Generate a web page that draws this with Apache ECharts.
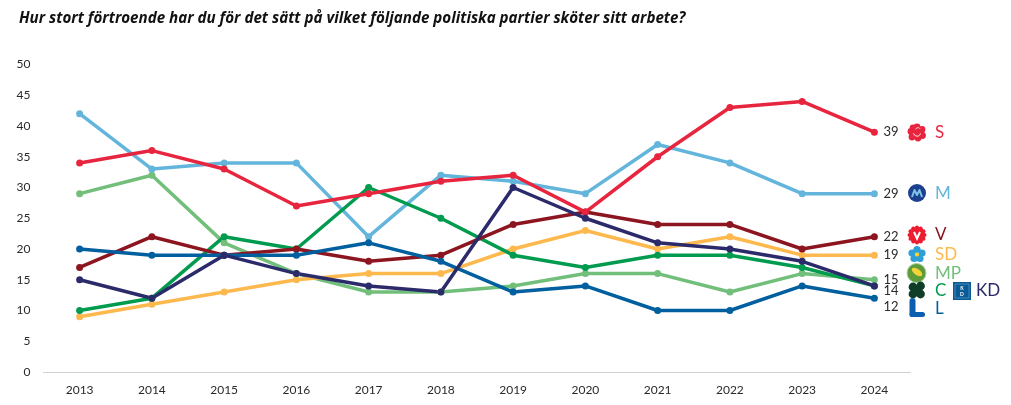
<!DOCTYPE html>
<html><head><meta charset="utf-8">
<style>html,body{margin:0;padding:0;background:#fff}#c{width:1011px;height:405px}</style>
<script src="https://cdn.jsdelivr.net/npm/echarts@6/dist/echarts.min.js"></script>
</head><body><div id="c"></div>
<script>
const titleText = 'Hur stort förtroende har du för det sätt på vilket följande politiska partier sköter sitt arbete?';
const years = ['2013','2014','2015','2016','2017','2018','2019','2020','2021','2022','2023','2024'];
const S  = [34,36,33,27,29,31,32,26,35,43,44,39];
const M  = [42,33,34,34,22,32,31,29,37,34,29,29];
const V  = [17,22,19,20,18,19,24,26,24,24,20,22];
const SD = [9,11,13,15,16,16,20,23,20,22,19,19];
const MP = [29,32,21,16,13,13,14,16,16,13,16,15];
const C  = [10,12,22,20,30,25,19,17,19,19,17,14];
const KD = [15,12,19,16,14,13,30,25,21,20,18,14];
const L  = [20,19,19,19,21,18,13,14,10,10,14,12];
const FONT = 'Lato';
const TXT = '#2a2a2a';
const defs = [
  {name:'MP',data:MP,color:'#72bf7b',dy:0},
  {name:'SD',data:SD,color:'#fdb94d',dy:0},
  {name:'M', data:M, color:'#63b5dc',dy:0},
  {name:'C', data:C, color:'#009b4e',dy:0,noLabel:true},
  {name:'V', data:V, color:'#8c1520',dy:0},
  {name:'L', data:L, color:'#005f9e',dy:9},
  {name:'S', data:S, color:'#e8253f',dy:0},
  {name:'KD',data:KD,color:'#2b2a6b',dy:5}
];
const chart = echarts.init(document.getElementById('c'),null,{renderer:'canvas'});
const names = [['S',133,'#e8253f',935],['M',194,'#63b5dc',935],['V',235,'#8c1520',935],['SD',255,'#fdb94d',935],['MP',274,'#72bf7b',935],['C',291,'#009b4e',935],['KD',291,'#2b2a6b',976],['L',309,'#005f9e',935]];
const g = [];
names.forEach(n=>g.push({type:'text',z:10,style:{x:n[3],y:n[1],text:n[0],fill:n[2],font:'17px '+FONT,verticalAlign:'middle'}}));
// party emblems
[[0,-5.5],[5,-3],[5.5,3],[1,5.5],[-5,4.5],[-6,-1],[-4,-4.5]].forEach(p=>g.push({type:'circle',shape:{cx:917+p[0],cy:132.5+p[1],r:3.4},style:{fill:'#e8253f'}}));
g.push({type:'circle',shape:{cx:917,cy:132.5,r:6.5},style:{fill:'#e8253f'}});
g.push({type:'arc',shape:{cx:917,cy:132.5,r:3.6,startAngle:0.3,endAngle:2.9},style:{stroke:'#fff',fill:null,lineWidth:0.9}});
g.push({type:'arc',shape:{cx:918,cy:130,r:2.4,startAngle:3.4,endAngle:5.8},style:{stroke:'#fff',fill:null,lineWidth:0.7}});
g.push({type:'circle',shape:{cx:917,cy:193,r:9},style:{fill:'#1c3f8f'}});
g.push({type:'polyline',shape:{points:[[912,197],[914.5,190],[917,195],[919.5,190],[922,197]]},style:{stroke:'#7cc4e6',fill:null,lineWidth:2,lineJoin:'round'}});
for(let i=0;i<12;i++){const a=i/12*2*Math.PI;g.push({type:'circle',shape:{cx:917+7.5*Math.cos(a),cy:235+7.5*Math.sin(a),r:2},style:{fill:'#ed1c30'}});}
g.push({type:'circle',shape:{cx:917,cy:235,r:8},style:{fill:'#ed1c30'}});
g.push({type:'polyline',shape:{points:[[914,232],[917,238.5],[920,232]]},style:{stroke:'#fff',fill:null,lineWidth:2}});
[[0,-5],[5,-1.5],[3,4],[-3,4],[-5,-1.5]].forEach(p=>g.push({type:'circle',shape:{cx:917+p[0],cy:254.5+p[1],r:3.6},style:{fill:'#2f9fd8'}}));
g.push({type:'circle',shape:{cx:917,cy:254.5,r:2},style:{fill:'#ffd21f'}});
g.push({type:'circle',shape:{cx:916.5,cy:273,r:9.5},style:{fill:'#5e9c3a',stroke:'#a8cfa8',lineWidth:1}});
g.push({type:'ellipse',shape:{cx:917,cy:272,rx:6,ry:3},rotation:-0.6,originX:917,originY:272,style:{fill:'#f2d43a'}});
[[-4,-3.5],[3.5,-4.5],[-4,3.5],[3.5,3.5]].forEach(p=>g.push({type:'circle',shape:{cx:917+p[0],cy:290.5+p[1],r:4.4},style:{fill:'#0f3d2a'}}));
g.push({type:'circle',shape:{cx:917,cy:290.5,r:3},style:{fill:'#0f3d2a'}});
g.push({type:'rect',shape:{x:953,y:282,width:18,height:18},style:{fill:'#0a5a96'}});
g.push({type:'rect',shape:{x:955,y:284,width:14,height:14},style:{fill:'none',stroke:'#6fa8cf',lineWidth:0.6}});
g.push({type:'text',style:{x:962,y:291,text:'K\nD',fill:'#fff',font:'bold 5px '+FONT,lineHeight:6,align:'center',verticalAlign:'middle'}});
g.push({type:'rect',shape:{x:909.5,y:298,width:6,height:19,r:3},style:{fill:'#0b5fae'}});
g.push({type:'rect',shape:{x:909.5,y:312,width:15.5,height:5,r:2.5},style:{fill:'#0b5fae'}});
chart.setOption({
  animation:false,
  textStyle:{fontFamily:FONT},
  title:{text:titleText,left:19,top:11,padding:0,textStyle:{fontFamily:'Open Sans',fontSize:15.15,fontWeight:'bold',fontStyle:'italic',color:'#111'}},
  grid:{left:43.5,right:100.5,top:64.5,bottom:33},
  graphic:g,
  xAxis:{type:'category',data:years,boundaryGap:true,
    axisLine:{lineStyle:{color:'#cfcfcf',width:1}},axisTick:{show:false},
    axisLabel:{color:TXT,fontSize:12,margin:12,fontFamily:FONT}},
  yAxis:{type:'value',min:0,max:50,interval:5,splitLine:{show:false},axisLine:{show:false},axisTick:{show:false},
    axisLabel:{color:TXT,fontSize:12,margin:13,fontFamily:FONT,align:'right'}},
  series:defs.map(d=>({
    name:d.name,type:'line',data:d.data,smooth:false,
    symbol:'circle',symbolSize:7,showSymbol:true,
    lineStyle:{color:d.color,width:3.5},
    itemStyle:{color:d.color},
    label:{show:false},
    endLabel:d.noLabel?{show:false}:{show:true,formatter:p=>String(p.value),color:TXT,fontSize:13,fontFamily:FONT,offset:[1,d.dy]}
  }))
});
</script></body></html>
